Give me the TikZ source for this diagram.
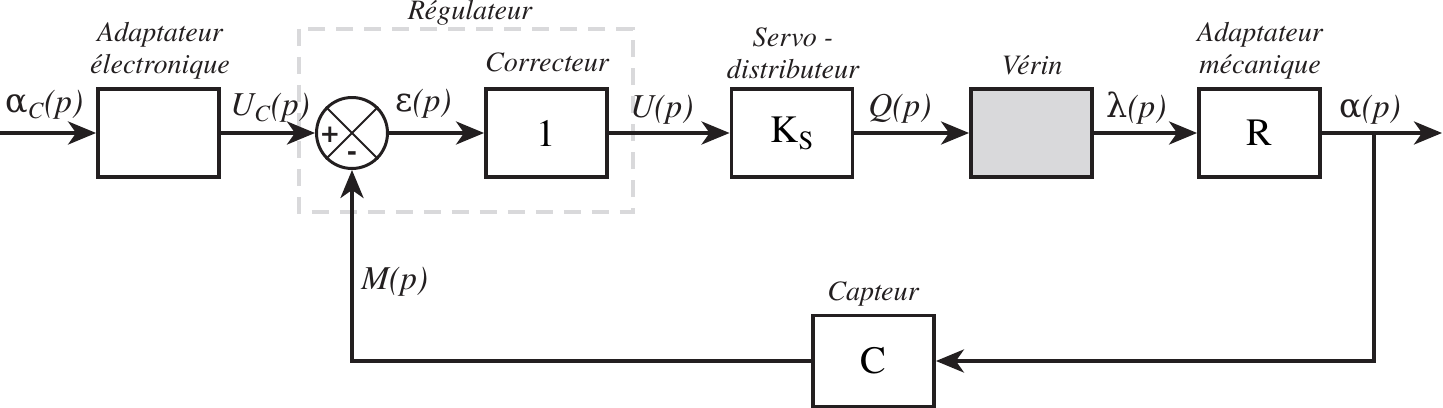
\documentclass[tikz,border=0pt]{standalone}
\usepackage{fontspec}
\setmainfont{texgyretermes}[Extension=.otf, UprightFont=*-regular, ItalicFont=*-italic, BoldFont=*-bold, BoldItalicFont=*-bolditalic]
\newfontfamily\grk{DejaVu Serif}
\newfontfamily\sgn{DejaVu Sans}
\usetikzlibrary{arrows.meta,calc}
\definecolor{lgray}{RGB}{217,217,219}
\definecolor{ink}{RGB}{35,31,32}
\begin{document}
\begin{tikzpicture}[x=0.02cm,y=-0.02cm,
  blk/.style={draw=ink, line width=2.2pt, minimum width=2.42cm, minimum height=1.76cm, inner sep=0pt, font=\rmfamily\fontsize{22}{26}\selectfont},
  sig/.style={draw=ink, line width=2.2pt, -{Stealth[length=0.56cm,width=0.46cm,inset=0.16cm]}},
  ln/.style={draw=ink, line width=2.2pt},
  sl/.style={font=\rmfamily\fontsize{19}{22}\selectfont\itshape, inner sep=0pt, text=ink},
  nm/.style={font=\rmfamily\fontsize{16}{18}\selectfont\itshape, align=center, inner sep=0pt, text=ink},
  sumc/.style={circle, draw=ink, line width=1.7pt, minimum size=1.42cm, inner sep=0pt},
  sgnst/.style={font=\sgn\bfseries\fontsize{14}{14}\selectfont, inner sep=0pt, text=ink}
]
\useasboundingbox (0,0) rectangle (1443,408);
% regulator dashed box
\draw[lgray, line width=2.8pt, dash pattern=on 0.34cm off 0.22cm] (299,29) rectangle (633,212);
\node[nm, anchor=base] (regl) at (470,20) {Régulateur};
% blocks
\node[blk] (adE) at (158.5,133) {};
\node[sumc] (s) at (352,133) {};
\draw[ink, line width=1.2pt] (s.north west) -- (s.south east) (s.north east) -- (s.south west);
\node[sgnst] (plus) at (330,135) {+};
\node[sgnst] (minus) at (352,156) {-};
\node[blk] (cor) at (546.5,133) {1};
\node[blk] (ks) at (792,133) {K\raisebox{-0.4ex}{\fontsize{15}{17}\selectfont S}};
\node[blk, fill=lgray] (ver) at (1031.5,133) {};
\node[blk] (R) at (1259.5,133) {R};
\node[blk, minimum height=1.82cm] (C) at (873.5,361) {C};
% block names
\node[nm] (nadE) at (160,51) {Adaptateur\\électronique};
\node[nm] (ncor) at (547,62) {Correcteur};
\node[nm] (nks) at (793,53) {Servo -\\distributeur};
\node[nm] (nver) at (1032,65) {Vérin};
\node[nm] (nR) at (1260,51) {Adaptateur\\mécanique};
\node[nm] (nC) at (873,294) {Capteur};
% coordinates
\coordinate (in) at (0,133);
\coordinate (out) at (1442,133);
\coordinate (br) at (1374,133);
\coordinate (brd) at (1374,361);
\coordinate (fbl) at (352,361);
% connectors
\draw[sig] (in) -- (adE.west);
\draw[sig] (adE.east) -- (s.west);
\draw[sig] (s.east) -- (cor.west);
\draw[sig] (cor.east) -- (ks.west);
\draw[sig] (ks.east) -- (ver.west);
\draw[sig] (ver.east) -- (R.west);
\draw[sig] (R.east) -- (out);
\draw[sig] (br) -- (brd) -- (C.east);
\draw[sig] (C.west) -- (fbl) -- (s.south);
% signal labels
\node[sl, anchor=base west] (la) at (5,113) {{\grk\upshape α}\textsubscript{C}(p)};
\node[sl, anchor=base west] (lu) at (230,116) {U\textsubscript{C}(p)};
\node[sl, anchor=base west] (le) at (395,112) {{\grk\upshape ε}(p)};
\node[sl, anchor=base west] (lU) at (630,118) {U(p)};
\node[sl, anchor=base west] (lQ) at (868,117) {Q(p)};
\node[sl, anchor=base west] (ll) at (1106,118) {{\grk\upshape λ}(p)};
\node[sl, anchor=base west] (lal) at (1339,118) {{\grk\upshape α}(p)};
\node[sl, anchor=base west] (lM) at (361,290) {M(p)};
\end{tikzpicture}
\end{document}
